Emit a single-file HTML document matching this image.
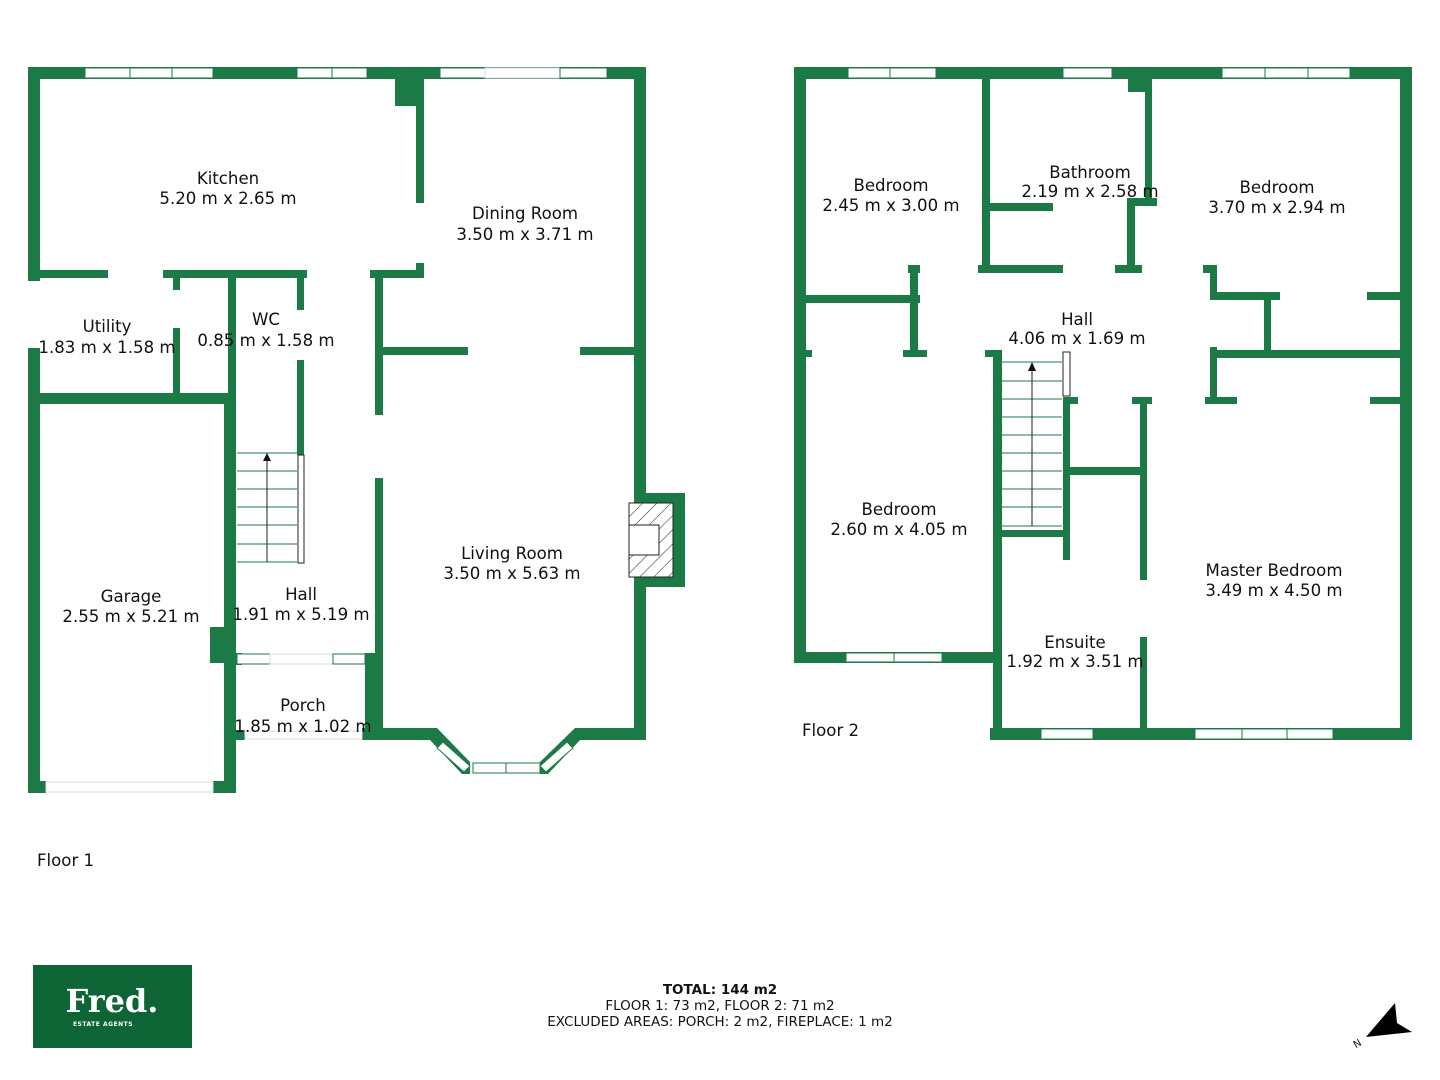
<!DOCTYPE html>
<html><head><meta charset="utf-8"><style>
html,body{margin:0;padding:0;background:#fff;}
svg{display:block;}
text{font-family:"DejaVu Sans","Liberation Sans",sans-serif;font-size:16.6px;fill:#111;text-anchor:middle;}
.w{fill:#1b7a45;}
.win{fill:#fff;stroke:#1b7a45;stroke-width:1;}
.op{fill:#fff;stroke:#ddd;stroke-width:1;}
</style></head><body>
<svg width="1440" height="1080" viewBox="0 0 1440 1080">
<g class="w">
<rect x="28" y="67" width="618" height="12"/>
<rect x="28" y="67" width="12" height="214"/>
<rect x="28" y="348" width="12" height="445"/>
<rect x="28" y="781" width="18" height="12"/>
<rect x="213" y="781" width="23" height="12"/>
<rect x="224" y="393" width="12" height="400"/>
<rect x="210" y="627" width="26" height="36"/>
<rect x="28" y="393" width="208" height="11"/>
<rect x="634" y="67" width="12" height="673"/>
<rect x="395" y="79" width="29" height="27"/>
<rect x="416" y="79" width="8" height="124"/>
<rect x="416" y="263" width="8" height="15"/>
<rect x="28" y="270" width="80" height="8"/>
<rect x="163" y="270" width="144" height="8"/>
<rect x="370" y="270" width="54" height="8"/>
<rect x="173" y="270" width="7" height="20"/>
<rect x="173" y="328" width="7" height="72"/>
<rect x="228" y="270" width="8" height="130"/>
<rect x="297" y="270" width="7" height="40"/>
<rect x="297" y="360" width="7" height="95"/>
<rect x="375" y="278" width="8" height="137"/>
<rect x="375" y="478" width="8" height="262"/>
<rect x="380" y="347" width="88" height="8"/>
<rect x="580" y="347" width="56" height="8"/>
<rect x="646" y="493" width="39" height="94"/>
<rect x="634" y="493" width="51" height="10"/>
<rect x="634" y="577" width="51" height="10"/>
<rect x="365" y="653" width="18" height="87"/>
<rect x="235" y="730" width="10" height="10"/>
<rect x="362" y="728" width="75" height="12"/>
<rect x="575" y="728" width="71" height="12"/>
<polygon points="437,728 470,762 470,774 462,774 430,740"/>
<polygon points="575,728 540,762 540,774 548,774 580,740"/>
<rect x="236" y="653" width="6" height="12"/>
<rect x="794" y="67" width="618" height="12"/>
<rect x="794" y="67" width="12" height="596"/>
<rect x="794" y="652" width="208" height="11"/>
<rect x="990" y="728" width="422" height="12"/>
<rect x="1400" y="67" width="12" height="673"/>
<rect x="982" y="79" width="8" height="194"/>
<rect x="990" y="203" width="63" height="8"/>
<rect x="1128" y="79" width="24" height="13"/>
<rect x="1145" y="79" width="7" height="126"/>
<rect x="1127" y="198" width="30" height="8"/>
<rect x="1127" y="198" width="8" height="75"/>
<rect x="978" y="265" width="85" height="8"/>
<rect x="1115" y="265" width="27" height="8"/>
<rect x="908" y="265" width="12" height="8"/>
<rect x="1203" y="265" width="14" height="8"/>
<rect x="806" y="295" width="114" height="8"/>
<rect x="910" y="265" width="8" height="92"/>
<rect x="903" y="350" width="24" height="7"/>
<rect x="794" y="350" width="18" height="7"/>
<rect x="985" y="350" width="17" height="7"/>
<rect x="993" y="350" width="9" height="390"/>
<rect x="1002" y="530" width="65" height="7"/>
<rect x="1063" y="397" width="7" height="163"/>
<rect x="1063" y="397" width="15" height="7"/>
<rect x="1132" y="397" width="20" height="7"/>
<rect x="1070" y="467" width="75" height="8"/>
<rect x="1140" y="397" width="7" height="183"/>
<rect x="1140" y="637" width="7" height="103"/>
<rect x="1210" y="265" width="7" height="35"/>
<rect x="1210" y="347" width="7" height="57"/>
<rect x="1217" y="292" width="63" height="8"/>
<rect x="1367" y="292" width="33" height="8"/>
<rect x="1264" y="292" width="7" height="60"/>
<rect x="1217" y="350" width="183" height="8"/>
<rect x="1205" y="397" width="32" height="7"/>
<rect x="1370" y="397" width="30" height="7"/>
</g>
<g>
<rect class="win" x="85" y="68" width="128" height="10"/><line x1="130" y1="68" x2="130" y2="78" stroke="#1b7a45"/><line x1="172" y1="68" x2="172" y2="78" stroke="#1b7a45"/>
<rect class="win" x="297" y="68" width="70" height="10"/><line x1="332" y1="68" x2="332" y2="78" stroke="#1b7a45"/>
<rect class="win" x="440" y="68" width="45" height="10"/>
<rect class="op" x="485" y="68" width="75" height="10"/>
<rect class="win" x="560" y="68" width="47" height="10"/>
<rect class="win" x="237" y="654" width="33" height="10"/>
<rect class="op" x="270" y="654" width="63" height="10"/>
<rect class="win" x="333" y="654" width="32" height="10"/>
<rect class="op" x="245" y="731" width="117" height="8"/>
<rect class="op" x="46" y="782" width="167" height="10"/>
<rect class="win" x="473" y="763" width="67" height="10"/><line x1="506" y1="763" x2="506" y2="773" stroke="#1b7a45"/>
<polygon class="win" points="443,742 470,766 464,772 437,748"/>
<polygon class="win" points="567,742 540,766 546,772 573,748"/>
<rect class="win" x="848" y="68" width="88" height="10"/><line x1="890" y1="68" x2="890" y2="78" stroke="#1b7a45"/>
<rect class="win" x="1063" y="68" width="49" height="10"/>
<rect class="win" x="1222" y="68" width="128" height="10"/><line x1="1265" y1="68" x2="1265" y2="78" stroke="#1b7a45"/><line x1="1308" y1="68" x2="1308" y2="78" stroke="#1b7a45"/>
<rect class="win" x="846" y="653" width="96" height="9"/><line x1="894" y1="653" x2="894" y2="662" stroke="#1b7a45"/>
<rect class="win" x="1041" y="729" width="52" height="10"/>
<rect class="win" x="1195" y="729" width="138" height="10"/><line x1="1242" y1="729" x2="1242" y2="739" stroke="#1b7a45"/><line x1="1287" y1="729" x2="1287" y2="739" stroke="#1b7a45"/>
</g>
<defs><pattern id="h" width="10" height="10" patternUnits="userSpaceOnUse" patternTransform="rotate(45)"><line x1="0" y1="0" x2="0" y2="10" stroke="#222" stroke-width="1"/></pattern></defs>
<rect x="629" y="503" width="44" height="74" fill="#fff"/>
<rect x="629" y="503" width="44" height="74" fill="url(#h)" stroke="#222"/>
<rect x="629" y="525" width="30" height="30" fill="#fff" stroke="#222"/>
<g stroke="#1b7a45" stroke-width="1" fill="none">
<line x1="237" y1="453" x2="297" y2="453"/><line x1="237" y1="471" x2="297" y2="471"/><line x1="237" y1="489" x2="297" y2="489"/><line x1="237" y1="507" x2="297" y2="507"/><line x1="237" y1="525" x2="297" y2="525"/><line x1="237" y1="544" x2="297" y2="544"/><line x1="237" y1="562" x2="297" y2="562"/>
<line x1="1002" y1="362" x2="1062" y2="362"/><line x1="1002" y1="381" x2="1062" y2="381"/><line x1="1002" y1="399" x2="1062" y2="399"/><line x1="1002" y1="417" x2="1062" y2="417"/><line x1="1002" y1="435" x2="1062" y2="435"/><line x1="1002" y1="453" x2="1062" y2="453"/><line x1="1002" y1="471" x2="1062" y2="471"/><line x1="1002" y1="489" x2="1062" y2="489"/><line x1="1002" y1="507" x2="1062" y2="507"/><line x1="1002" y1="526" x2="1062" y2="526"/>
</g>
<line x1="267" y1="460" x2="267" y2="562" stroke="#222"/><polygon points="263,461 271,461 267,453" fill="#111"/>
<rect x="298" y="455" width="6" height="108" fill="#fff" stroke="#222"/>
<line x1="1032" y1="370" x2="1032" y2="526" stroke="#222"/><polygon points="1028,371 1036,371 1032,362" fill="#111"/>
<rect x="1063" y="352" width="7" height="44" fill="#fff" stroke="#222"/>
<text x="228" y="184">Kitchen</text><text x="228" y="204">5.20 m x 2.65 m</text>
<text x="525" y="219">Dining Room</text><text x="525" y="240">3.50 m x 3.71 m</text>
<text x="107" y="332">Utility</text><text x="107" y="353">1.83 m x 1.58 m</text>
<text x="266" y="325">WC</text><text x="266" y="346">0.85 m x 1.58 m</text>
<text x="512" y="559">Living Room</text><text x="512" y="579">3.50 m x 5.63 m</text>
<text x="131" y="602">Garage</text><text x="131" y="622">2.55 m x 5.21 m</text>
<text x="301" y="600">Hall</text><text x="301" y="620">1.91 m x 5.19 m</text>
<text x="303" y="711">Porch</text><text x="303" y="732">1.85 m x 1.02 m</text>
<text x="891" y="191">Bedroom</text><text x="891" y="211">2.45 m x 3.00 m</text>
<text x="1090" y="178">Bathroom</text><text x="1090" y="197">2.19 m x 2.58 m</text>
<text x="1277" y="193">Bedroom</text><text x="1277" y="213">3.70 m x 2.94 m</text>
<text x="1077" y="325">Hall</text><text x="1077" y="344">4.06 m x 1.69 m</text>
<text x="899" y="515">Bedroom</text><text x="899" y="535">2.60 m x 4.05 m</text>
<text x="1274" y="576">Master Bedroom</text><text x="1274" y="596">3.49 m x 4.50 m</text>
<text x="1075" y="648">Ensuite</text><text x="1075" y="667">1.92 m x 3.51 m</text>
<text x="802" y="736" style="text-anchor:start">Floor 2</text>
<text x="37" y="866" style="text-anchor:start">Floor 1</text>
<text x="720" y="994" style="font-size:13.5px;font-weight:bold">TOTAL: 144 m2</text>
<text x="720" y="1010" style="font-size:13.5px">FLOOR 1: 73 m2, FLOOR 2: 71 m2</text>
<text x="720" y="1026" style="font-size:13.5px">EXCLUDED AREAS: PORCH: 2 m2, FIREPLACE: 1 m2</text>
<rect x="33" y="965" width="159" height="83" fill="#0d6536"/>
<text x="112" y="1012" style="font-family:'DejaVu Serif','Liberation Serif',serif;font-size:32px;font-weight:bold;fill:#fff">Fred.</text>
<text x="103" y="1026" style="font-size:6px;font-weight:bold;fill:#fff;letter-spacing:0.5px">ESTATE AGENTS</text>
<polygon points="1366,1037 1395,1003 1397,1023 1412,1032" fill="#000"/>
<text x="1357" y="1047" style="font-size:10px" transform="rotate(-30 1357 1043)">N</text>
</svg>
</body></html>
